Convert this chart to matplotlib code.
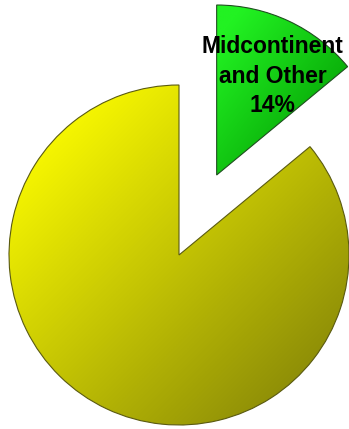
import numpy as np
import matplotlib.pyplot as plt
from matplotlib.colors import LinearSegmentedColormap

labels = ["Gulf Coast", "Midcontinent\nand Other"]
values = [86, 14]
shown = [False, True]

light = ["#fcfc00", "#22f222"]
dark = ["#828208", "#009400"]
edges = ["#5a5a10", "#1f4f1f"]

W, H = 349, 429
fig = plt.figure(figsize=(W / 100, H / 100), dpi=100)
ax = fig.add_axes([0, 0, 1, 1])

cx, cy, r = 179, 174, 170
wedges, _ = ax.pie(values, startangle=90, counterclock=True,
                   explode=[0, 0.52 * r], center=(cx, cy), radius=r,
                   wedgeprops=dict(linewidth=0.8), frame=True)

# diagonal shading from top-left (light) to bottom-right (dark)
for w, c0, c1, ec in zip(wedges, light, dark, edges):
    w.set_facecolor("none")
    w.set_edgecolor(ec)
    w.set_zorder(3)
    bb = w.get_path().get_extents(w.get_transform() + ax.transData.inverted())
    u, v = np.meshgrid(np.linspace(0, 1, 200), np.linspace(0, 1, 200))
    t = (u + (1 - v)) / 2
    cmap = LinearSegmentedColormap.from_list("g", [c0, c1])
    im = ax.imshow(t, cmap=cmap, origin="lower", aspect="auto",
                   extent=[bb.x0, bb.x1, bb.y0, bb.y1], zorder=2,
                   interpolation="bilinear", vmin=0.1, vmax=0.95)
    im.set_clip_path(w)

total = sum(values)
for w, lab, v, show in zip(wedges, labels, values, shown):
    if not show:
        continue
    ang = np.deg2rad((w.theta1 + w.theta2) / 2 - 3)
    x0, y0 = w.center
    ax.text(x0 + 0.7 * r * np.cos(ang), y0 + 0.66 * r * np.sin(ang),
            f"{lab}\n{v / total * 100:.0f}%", ha="center", va="center",
            fontsize=16.5, fontweight="bold", family="Liberation Sans",
            linespacing=1.35, zorder=5)

ax.set_xlim(0, W)
ax.set_ylim(0, H)
ax.set_aspect("equal")
ax.axis("off")

fig.savefig("out.png", dpi=100)
